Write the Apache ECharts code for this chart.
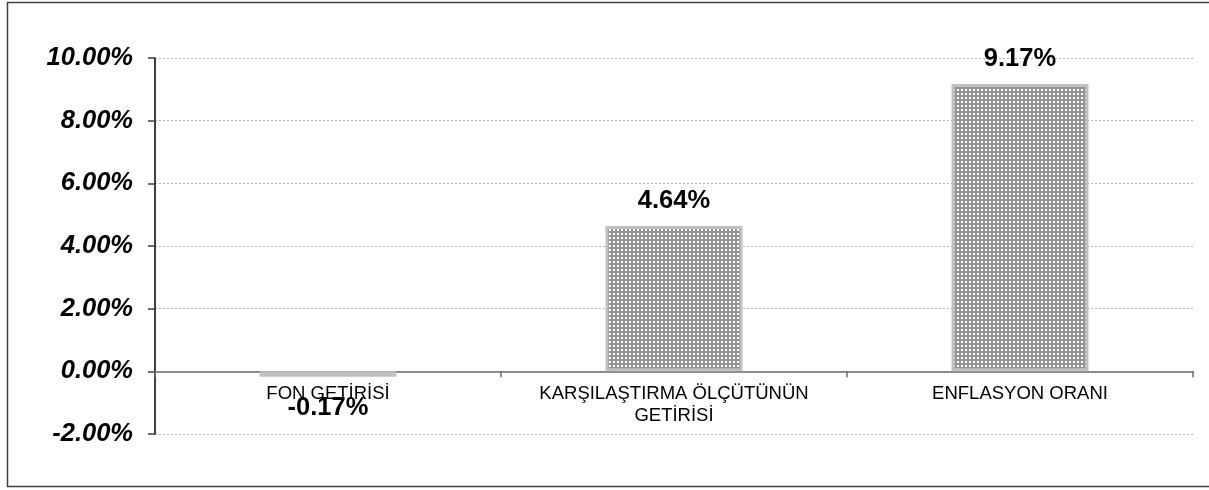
<!DOCTYPE html>
<html>
<head>
<meta charset="utf-8">
<script src="https://cdn.jsdelivr.net/npm/echarts@6/dist/echarts.min.js"></script>
<style>
html,body{margin:0;padding:0;background:#fff;}
#chart{width:1209px;height:490px;}
</style>
</head>
<body>
<div id="chart"></div>
<script>
const categories = ['FON GETİRİSİ', 'KARŞILAŞTIRMA ÖLÇÜTÜNÜN\nGETİRİSİ', 'ENFLASYON ORANI'];
const values = [-0.17, 4.64, 9.17];
const yMin = -2, yMax = 10, yStep = 2;

function makePattern() {
  const c = document.createElement('canvas');
  c.width = 4; c.height = 4;
  const ctx = c.getContext('2d');
  ctx.fillStyle = '#939393';
  ctx.fillRect(0, 0, 4, 4);
  ctx.fillStyle = '#ffffff';
  ctx.fillRect(1, 1, 2, 2);
  return c;
}
const pattern = makePattern();
const font = 'Liberation Sans, Arial, sans-serif';

const chart = echarts.init(document.getElementById('chart'), null, {renderer: 'canvas'});
chart.setOption({
  animation: false,
  backgroundColor: '#ffffff',
  grid: {left: 155, right: 16, top: 58, bottom: 56, containLabel: false},
  graphic: [{
    type: 'rect', silent: true, z: -1,
    shape: {x: 7.5, y: 2.5, width: 1210, height: 484},
    style: {fill: 'none', stroke: '#404040', lineWidth: 1.5}
  }],
  xAxis: {
    type: 'category',
    data: categories,
    axisLine: {show: true, onZero: true, lineStyle: {color: '#6b6b6b', width: 1.5}},
    axisTick: {show: true, length: 6, inside: false, lineStyle: {color: '#6b6b6b', width: 1.5}},
    axisLabel: {
      color: '#000', fontFamily: font, fontSize: 18.5, margin: -51, lineHeight: 22,
      interval: 0
    },
    z: 1
  },
  yAxis: {
    type: 'value',
    min: yMin, max: yMax, interval: yStep,
    axisLine: {show: true, lineStyle: {color: '#000', width: 1.5}},
    axisTick: {show: true, length: 7, lineStyle: {color: '#404040', width: 1.5}},
    axisLabel: {
      color: '#000', fontFamily: font, fontSize: 25.5, fontWeight: 'bold', fontStyle: 'italic',
      margin: 22,
      formatter: v => v.toFixed(2) + '%'
    },
    splitLine: {show: true, lineStyle: {color: '#b4b4b4', type: [2, 2], width: 1}}
  },
  series: [{
    type: 'bar',
    barWidth: 137,
    data: values.map(v => ({
      value: v,
      label: v < 0 ? {position: 'bottom', distance: 18} : {position: 'top', distance: 12}
    })),
    itemStyle: {
      color: {image: pattern, repeat: 'repeat'},
      borderColor: '#c0c0c0',
      borderWidth: 3
    },
    label: {
      show: true,
      color: '#000', fontFamily: font, fontSize: 25.5, fontWeight: 'bold',
      formatter: p => p.value.toFixed(2) + '%'
    },
    z: 5
  }]
});
</script>
</body>
</html>
